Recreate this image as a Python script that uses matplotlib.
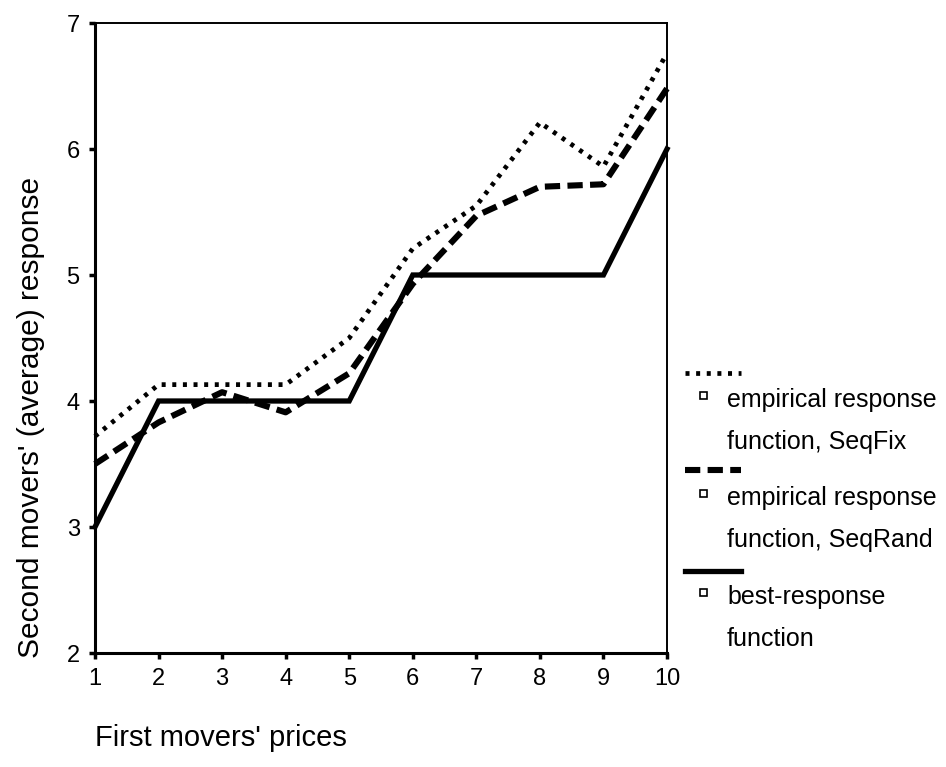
import matplotlib
matplotlib.use("Agg")
import matplotlib.pyplot as plt
from matplotlib.lines import Line2D
from matplotlib.patches import Rectangle

plt.rcParams['font.family'] = ['Liberation Sans', 'DejaVu Sans']

prices = [1, 2, 3, 4, 5, 6, 7, 8, 9, 10]
seqfix = [3.72, 4.13, 4.13, 4.13, 4.50, 5.21, 5.55, 6.21, 5.86, 6.76]
seqrand = [3.50, 3.83, 4.07, 3.91, 4.22, 4.93, 5.47, 5.70, 5.72, 6.48]
best = [3, 4, 4, 4, 4, 5, 5, 5, 5, 6]
legend_labels = ["empirical response\nfunction, SeqFix",
                 "empirical response\nfunction, SeqRand",
                 "best-response\nfunction"]

W, H = 946, 767
fig = plt.figure(figsize=(W / 100, H / 100), dpi=100)
ax = fig.add_axes([95 / W, 1 - 653 / H, (667 - 95) / W, (653 - 23) / H])

styles = [dict(ls=(0, (0.85, 1.4)), lw=3.4),
          dict(ls=(0, (2.5, 1.2)), lw=4.4),
          dict(ls='-', lw=3.8)]
series = [seqfix, seqrand, best]
for s, st in zip(series, styles):
    ax.plot(prices, s, color='black', solid_joinstyle='miter', clip_on=False, **st)

ax.set_xlim(1, 10)
ax.set_ylim(2, 7)
ax.set_xticks(prices)
ax.set_yticks([2, 3, 4, 5, 6, 7])
ax.tick_params(direction='out', length=4, width=2.5, labelsize=17)
ax.tick_params(axis='y', pad=7)
ax.tick_params(axis='x', pad=7)
for sp in ['left', 'bottom']:
    ax.spines[sp].set_linewidth(2.2)
for sp in ['top', 'right']:
    ax.spines[sp].set_linewidth(1.4)

fig.text(95 / W, 1 - 738 / H, "First movers' prices", fontsize=21,
         ha='left', va='center')
fig.text(31 / W, 1 - 417 / H, "Second movers' (average) response", fontsize=21.5,
         rotation=90, ha='center', va='center')

# legend (manual, outside right)
sample_y = [373, 470, 571]
text_y = [400, 498, 597]
for sy, ty, st, lab in zip(sample_y, text_y, styles, legend_labels):
    fig.add_artist(Line2D([685 / W, 741 / W], [1 - sy / H, 1 - sy / H],
                          color='black', transform=fig.transFigure, **st))
    fig.add_artist(Rectangle((700 / W, 1 - (ty - 1) / H), 7 / W, 7 / H,
                             transform=fig.transFigure, fill=False,
                             edgecolor='black', lw=1.2))
    l1, l2 = lab.split("\n")
    fig.text(727 / W, 1 - ty / H, l1, fontsize=18, ha='left', va='center')
    fig.text(727 / W, 1 - (ty + 42) / H, l2, fontsize=18, ha='left', va='center')

fig.savefig("out.png", dpi=100)
